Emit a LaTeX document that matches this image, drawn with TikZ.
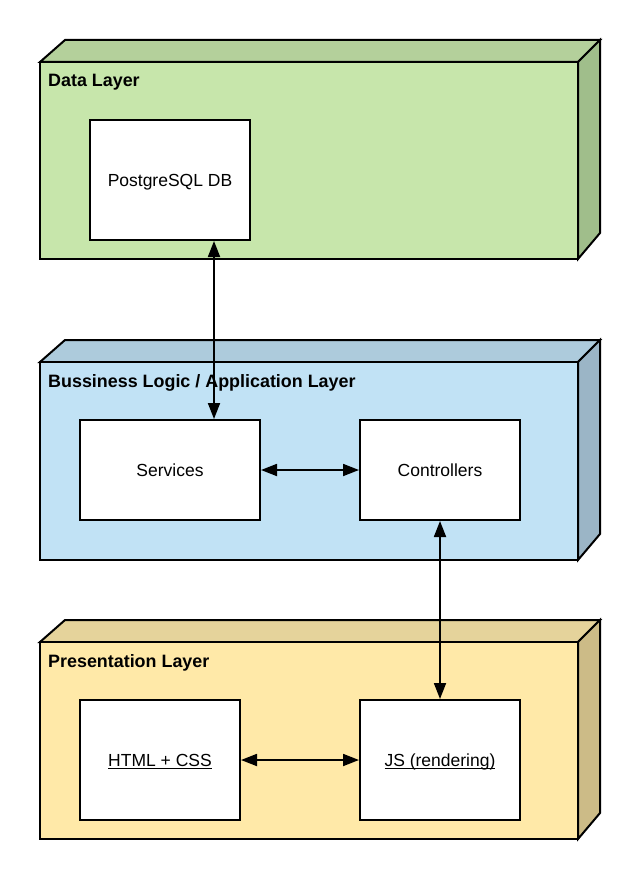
\documentclass[tikz,border=0pt]{standalone}
\usepackage{fontspec}
\setmainfont{Liberation Sans}
\usetikzlibrary{arrows.meta,calc}
\definecolor{gFront}{HTML}{C7E6AB}
\definecolor{gTop}{HTML}{B4D09B}
\definecolor{gSide}{HTML}{A0BE8B}
\definecolor{bFront}{HTML}{C1E2F5}
\definecolor{bTop}{HTML}{ADCBDC}
\definecolor{bSide}{HTML}{9BB5C6}
\definecolor{yFront}{HTML}{FFE9A8}
\definecolor{yTop}{HTML}{E5D39B}
\definecolor{ySide}{HTML}{CCBB87}
\newcommand\myul[1]{\setbox0\hbox{#1}\rlap{\rule[-2.6pt]{\wd0}{1.1pt}}\box0}
\newcommand\drawlayer[5]{%
  \filldraw[fill=#4,layerline] (40,#1) -- (65,#1-22) -- (600,#1-22) -- (578,#1) -- cycle;
  \filldraw[fill=#5,layerline] (578,#1) -- (600,#1-22) -- (600,#2-26) -- (578,#2) -- cycle;
  \filldraw[fill=#3,layerline] (40,#1) rectangle (578,#2);
}
\tikzset{
  layerline/.style={draw=black,line width=2pt,line join=miter},
  compbox/.style={draw=black,fill=white,line width=2pt,rectangle,inner sep=0pt,
    font=\fontsize{17.5}{21}\selectfont},
  layerlabel/.style={anchor=base west,inner sep=0pt,font=\fontsize{17.9}{21}\selectfont\bfseries},
  boxtext/.style={anchor=base,inner sep=0pt,font=\fontsize{17.5}{21}\selectfont},
  biarrow/.style={line width=1.8pt,{Triangle[length=16pt,width=12pt]}-{Triangle[length=16pt,width=12pt]}}
}
\begin{document}
\begin{tikzpicture}[x=1pt,y=-1pt]
\useasboundingbox (0,0) rectangle (640,880);
\fill[white] (0,0) rectangle (640,880);
% layers
\drawlayer{62}{259}{gFront}{gTop}{gSide}
\drawlayer{362}{560}{bFront}{bTop}{bSide}
\drawlayer{642}{839}{yFront}{yTop}{ySide}
% layer labels
\node[layerlabel] (ldata) at (48,87) {Data Layer};
\node[layerlabel] (lbus) at (48,387) {Bussiness Logic / Application Layer};
\node[layerlabel] (lpres) at (48,667) {Presentation Layer};
% component boxes
\node[compbox,minimum width=160pt,minimum height=120pt] (pg) at (170,180) {};
\node[boxtext] (pgt) at (170,186) {PostgreSQL DB};
\node[compbox,minimum width=180pt,minimum height=100pt] (svc) at (170,470) {};
\node[boxtext] (svct) at (170,476) {Services};
\node[compbox,minimum width=160pt,minimum height=100pt] (ctrl) at (440,470) {};
\node[boxtext] (ctrlt) at (440,476) {Controllers};
\node[compbox,minimum width=160pt,minimum height=120pt] (html) at (160,760) {};
\node[boxtext] (htmlt) at (160,766) {\myul{HTML + CSS}};
\node[compbox,minimum width=160pt,minimum height=120pt] (js) at (440,760) {};
\node[boxtext] (jst) at (440,766) {\myul{JS (rendering)}};
% connectors
\draw[biarrow] ([xshift=44pt]pg.south) -- ([xshift=44pt]svc.north);
\draw[biarrow] (svc.east) -- (ctrl.west);
\draw[biarrow] (ctrl.south) -- (js.north);
\draw[biarrow] (html.east) -- (js.west);
\end{tikzpicture}
\end{document}
